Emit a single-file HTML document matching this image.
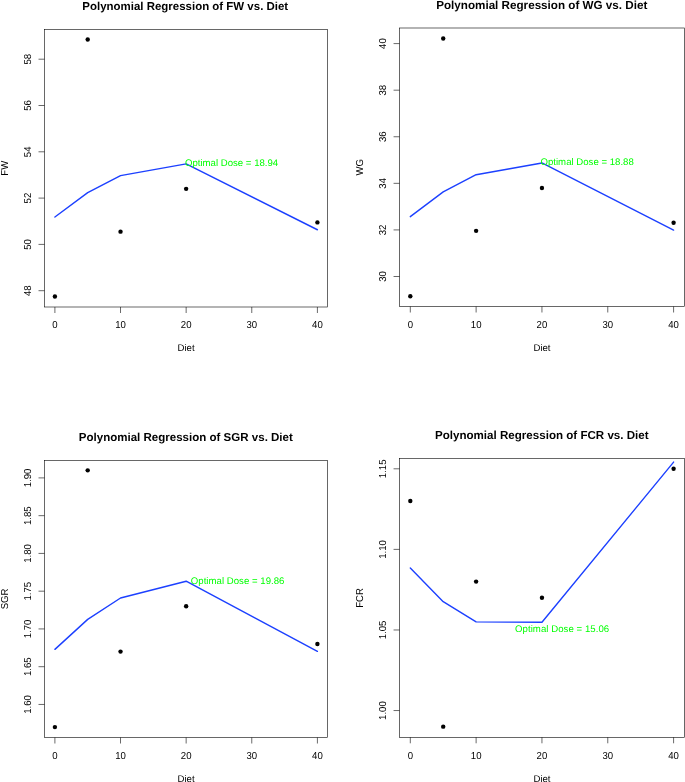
<!DOCTYPE html>
<html><head><meta charset="utf-8"><style>
html,body{margin:0;padding:0;background:#fff;}
body{width:685px;height:782px;overflow:hidden;}
svg{display:block;}
.t{opacity:0.999;}
text{font-family:"Liberation Sans", sans-serif;fill:#000;font-size:9.6px;text-rendering:geometricPrecision;}
text.g{fill:#00ff00;}
</style></head><body>
<svg width="685" height="782" viewBox="0 0 685 782">
<rect width="685" height="782" fill="#fff"/>
<g class="t">
<rect x="44.50" y="29.50" width="283.10" height="277.50" fill="none" stroke="#000" stroke-width="0.6"/>
<line x1="54.90" y1="307.00" x2="54.90" y2="313.00" stroke="#000" stroke-width="0.6"/>
<text transform="translate(54.90,328.00) scale(1,1.05)" text-anchor="middle">0</text>
<line x1="120.53" y1="307.00" x2="120.53" y2="313.00" stroke="#000" stroke-width="0.6"/>
<text transform="translate(120.53,328.00) scale(1,1.05)" text-anchor="middle">10</text>
<line x1="186.15" y1="307.00" x2="186.15" y2="313.00" stroke="#000" stroke-width="0.6"/>
<text transform="translate(186.15,328.00) scale(1,1.05)" text-anchor="middle">20</text>
<line x1="251.78" y1="307.00" x2="251.78" y2="313.00" stroke="#000" stroke-width="0.6"/>
<text transform="translate(251.78,328.00) scale(1,1.05)" text-anchor="middle">30</text>
<line x1="317.40" y1="307.00" x2="317.40" y2="313.00" stroke="#000" stroke-width="0.6"/>
<text transform="translate(317.40,328.00) scale(1,1.05)" text-anchor="middle">40</text>
<line x1="38.50" y1="290.70" x2="44.50" y2="290.70" stroke="#000" stroke-width="0.6"/>
<text transform="translate(30.90,290.70) rotate(-90) scale(1,1.05)" text-anchor="middle">48</text>
<line x1="38.50" y1="244.40" x2="44.50" y2="244.40" stroke="#000" stroke-width="0.6"/>
<text transform="translate(30.90,244.40) rotate(-90) scale(1,1.05)" text-anchor="middle">50</text>
<line x1="38.50" y1="198.10" x2="44.50" y2="198.10" stroke="#000" stroke-width="0.6"/>
<text transform="translate(30.90,198.10) rotate(-90) scale(1,1.05)" text-anchor="middle">52</text>
<line x1="38.50" y1="151.80" x2="44.50" y2="151.80" stroke="#000" stroke-width="0.6"/>
<text transform="translate(30.90,151.80) rotate(-90) scale(1,1.05)" text-anchor="middle">54</text>
<line x1="38.50" y1="105.50" x2="44.50" y2="105.50" stroke="#000" stroke-width="0.6"/>
<text transform="translate(30.90,105.50) rotate(-90) scale(1,1.05)" text-anchor="middle">56</text>
<line x1="38.50" y1="59.20" x2="44.50" y2="59.20" stroke="#000" stroke-width="0.6"/>
<text transform="translate(30.90,59.20) rotate(-90) scale(1,1.05)" text-anchor="middle">58</text>
<text transform="translate(186.05,351.00)" text-anchor="middle">Diet</text>
<text transform="translate(7.60,168.25) rotate(-90) scale(1,1.05)" text-anchor="middle">FW</text>
<text x="185.25" y="9.70" text-anchor="middle" style="font-size:11.47px;font-weight:bold;stroke:none">Polynomial Regression of FW vs. Diet</text>
<polyline points="54.90,217.05 87.71,192.61 120.53,175.61 186.15,163.91 317.40,229.75" fill="none" stroke="#1c40ff" stroke-width="1.4" stroke-linejoin="round" stroke-linecap="round"/>
<circle cx="54.90" cy="296.49" r="2.2" fill="#000"/>
<circle cx="87.71" cy="39.52" r="2.2" fill="#000"/>
<circle cx="120.53" cy="231.67" r="2.2" fill="#000"/>
<circle cx="186.15" cy="188.84" r="2.2" fill="#000"/>
<circle cx="317.40" cy="222.41" r="2.2" fill="#000"/>
<text transform="translate(184.94,166.00)" class="g" style="letter-spacing:0.01px">Optimal Dose = 18.94</text>
<rect x="399.55" y="28.00" width="284.85" height="278.50" fill="none" stroke="#000" stroke-width="0.6"/>
<line x1="410.30" y1="306.50" x2="410.30" y2="312.50" stroke="#000" stroke-width="0.6"/>
<text transform="translate(410.30,328.00) scale(1,1.05)" text-anchor="middle">0</text>
<line x1="476.12" y1="306.50" x2="476.12" y2="312.50" stroke="#000" stroke-width="0.6"/>
<text transform="translate(476.12,328.00) scale(1,1.05)" text-anchor="middle">10</text>
<line x1="541.95" y1="306.50" x2="541.95" y2="312.50" stroke="#000" stroke-width="0.6"/>
<text transform="translate(541.95,328.00) scale(1,1.05)" text-anchor="middle">20</text>
<line x1="607.77" y1="306.50" x2="607.77" y2="312.50" stroke="#000" stroke-width="0.6"/>
<text transform="translate(607.77,328.00) scale(1,1.05)" text-anchor="middle">30</text>
<line x1="673.60" y1="306.50" x2="673.60" y2="312.50" stroke="#000" stroke-width="0.6"/>
<text transform="translate(673.60,328.00) scale(1,1.05)" text-anchor="middle">40</text>
<line x1="393.55" y1="276.50" x2="399.55" y2="276.50" stroke="#000" stroke-width="0.6"/>
<text transform="translate(385.95,276.50) rotate(-90) scale(1,1.05)" text-anchor="middle">30</text>
<line x1="393.55" y1="229.92" x2="399.55" y2="229.92" stroke="#000" stroke-width="0.6"/>
<text transform="translate(385.95,229.92) rotate(-90) scale(1,1.05)" text-anchor="middle">32</text>
<line x1="393.55" y1="183.34" x2="399.55" y2="183.34" stroke="#000" stroke-width="0.6"/>
<text transform="translate(385.95,183.34) rotate(-90) scale(1,1.05)" text-anchor="middle">34</text>
<line x1="393.55" y1="136.76" x2="399.55" y2="136.76" stroke="#000" stroke-width="0.6"/>
<text transform="translate(385.95,136.76) rotate(-90) scale(1,1.05)" text-anchor="middle">36</text>
<line x1="393.55" y1="90.18" x2="399.55" y2="90.18" stroke="#000" stroke-width="0.6"/>
<text transform="translate(385.95,90.18) rotate(-90) scale(1,1.05)" text-anchor="middle">38</text>
<line x1="393.55" y1="43.60" x2="399.55" y2="43.60" stroke="#000" stroke-width="0.6"/>
<text transform="translate(385.95,43.60) rotate(-90) scale(1,1.05)" text-anchor="middle">40</text>
<text transform="translate(541.98,351.00)" text-anchor="middle">Diet</text>
<text transform="translate(362.65,167.25) rotate(-90) scale(1,1.05)" text-anchor="middle">WG</text>
<text x="541.75" y="8.50" text-anchor="middle" style="font-size:11.66px;font-weight:bold;stroke:none">Polynomial Regression of WG vs. Diet</text>
<polyline points="410.30,216.66 443.21,191.91 476.12,174.72 541.95,162.97 673.60,230.07" fill="none" stroke="#1c40ff" stroke-width="1.4" stroke-linejoin="round" stroke-linecap="round"/>
<circle cx="410.30" cy="296.30" r="2.2" fill="#000"/>
<circle cx="443.21" cy="38.48" r="2.2" fill="#000"/>
<circle cx="476.12" cy="230.85" r="2.2" fill="#000"/>
<circle cx="541.95" cy="188.00" r="2.2" fill="#000"/>
<circle cx="673.60" cy="222.70" r="2.2" fill="#000"/>
<text transform="translate(540.49,165.00)" class="g" style="letter-spacing:0.01px">Optimal Dose = 18.88</text>
<rect x="44.50" y="460.30" width="283.10" height="277.20" fill="none" stroke="#000" stroke-width="0.6"/>
<line x1="54.90" y1="737.50" x2="54.90" y2="743.50" stroke="#000" stroke-width="0.6"/>
<text transform="translate(54.90,759.00) scale(1,1.05)" text-anchor="middle">0</text>
<line x1="120.53" y1="737.50" x2="120.53" y2="743.50" stroke="#000" stroke-width="0.6"/>
<text transform="translate(120.53,759.00) scale(1,1.05)" text-anchor="middle">10</text>
<line x1="186.15" y1="737.50" x2="186.15" y2="743.50" stroke="#000" stroke-width="0.6"/>
<text transform="translate(186.15,759.00) scale(1,1.05)" text-anchor="middle">20</text>
<line x1="251.78" y1="737.50" x2="251.78" y2="743.50" stroke="#000" stroke-width="0.6"/>
<text transform="translate(251.78,759.00) scale(1,1.05)" text-anchor="middle">30</text>
<line x1="317.40" y1="737.50" x2="317.40" y2="743.50" stroke="#000" stroke-width="0.6"/>
<text transform="translate(317.40,759.00) scale(1,1.05)" text-anchor="middle">40</text>
<line x1="38.50" y1="704.45" x2="44.50" y2="704.45" stroke="#000" stroke-width="0.6"/>
<text transform="translate(30.90,704.45) rotate(-90) scale(1,1.05)" text-anchor="middle">1.60</text>
<line x1="38.50" y1="666.69" x2="44.50" y2="666.69" stroke="#000" stroke-width="0.6"/>
<text transform="translate(30.90,666.69) rotate(-90) scale(1,1.05)" text-anchor="middle">1.65</text>
<line x1="38.50" y1="628.93" x2="44.50" y2="628.93" stroke="#000" stroke-width="0.6"/>
<text transform="translate(30.90,628.93) rotate(-90) scale(1,1.05)" text-anchor="middle">1.70</text>
<line x1="38.50" y1="591.18" x2="44.50" y2="591.18" stroke="#000" stroke-width="0.6"/>
<text transform="translate(30.90,591.18) rotate(-90) scale(1,1.05)" text-anchor="middle">1.75</text>
<line x1="38.50" y1="553.42" x2="44.50" y2="553.42" stroke="#000" stroke-width="0.6"/>
<text transform="translate(30.90,553.42) rotate(-90) scale(1,1.05)" text-anchor="middle">1.80</text>
<line x1="38.50" y1="515.66" x2="44.50" y2="515.66" stroke="#000" stroke-width="0.6"/>
<text transform="translate(30.90,515.66) rotate(-90) scale(1,1.05)" text-anchor="middle">1.85</text>
<line x1="38.50" y1="477.90" x2="44.50" y2="477.90" stroke="#000" stroke-width="0.6"/>
<text transform="translate(30.90,477.90) rotate(-90) scale(1,1.05)" text-anchor="middle">1.90</text>
<text transform="translate(186.05,782.00)" text-anchor="middle">Diet</text>
<text transform="translate(7.60,598.90) rotate(-90) scale(1,1.05)" text-anchor="middle">SGR</text>
<text x="185.82" y="440.60" text-anchor="middle" style="font-size:11.545px;font-weight:bold;stroke:none">Polynomial Regression of SGR vs. Diet</text>
<polyline points="54.90,649.38 87.71,619.39 120.53,598.03 186.15,581.24 317.40,651.31" fill="none" stroke="#1c40ff" stroke-width="1.4" stroke-linejoin="round" stroke-linecap="round"/>
<circle cx="54.90" cy="727.11" r="2.2" fill="#000"/>
<circle cx="87.71" cy="470.35" r="2.2" fill="#000"/>
<circle cx="120.53" cy="651.59" r="2.2" fill="#000"/>
<circle cx="186.15" cy="606.28" r="2.2" fill="#000"/>
<circle cx="317.40" cy="644.04" r="2.2" fill="#000"/>
<text transform="translate(190.78,584.00)" class="g" style="letter-spacing:0.03px">Optimal Dose = 19.86</text>
<rect x="399.55" y="458.50" width="284.85" height="278.80" fill="none" stroke="#000" stroke-width="0.6"/>
<line x1="410.30" y1="737.30" x2="410.30" y2="743.30" stroke="#000" stroke-width="0.6"/>
<text transform="translate(410.30,759.00) scale(1,1.05)" text-anchor="middle">0</text>
<line x1="476.12" y1="737.30" x2="476.12" y2="743.30" stroke="#000" stroke-width="0.6"/>
<text transform="translate(476.12,759.00) scale(1,1.05)" text-anchor="middle">10</text>
<line x1="541.95" y1="737.30" x2="541.95" y2="743.30" stroke="#000" stroke-width="0.6"/>
<text transform="translate(541.95,759.00) scale(1,1.05)" text-anchor="middle">20</text>
<line x1="607.77" y1="737.30" x2="607.77" y2="743.30" stroke="#000" stroke-width="0.6"/>
<text transform="translate(607.77,759.00) scale(1,1.05)" text-anchor="middle">30</text>
<line x1="673.60" y1="737.30" x2="673.60" y2="743.30" stroke="#000" stroke-width="0.6"/>
<text transform="translate(673.60,759.00) scale(1,1.05)" text-anchor="middle">40</text>
<line x1="393.55" y1="710.55" x2="399.55" y2="710.55" stroke="#000" stroke-width="0.6"/>
<text transform="translate(385.95,710.55) rotate(-90) scale(1,1.05)" text-anchor="middle">1.00</text>
<line x1="393.55" y1="629.97" x2="399.55" y2="629.97" stroke="#000" stroke-width="0.6"/>
<text transform="translate(385.95,629.97) rotate(-90) scale(1,1.05)" text-anchor="middle">1.05</text>
<line x1="393.55" y1="549.38" x2="399.55" y2="549.38" stroke="#000" stroke-width="0.6"/>
<text transform="translate(385.95,549.38) rotate(-90) scale(1,1.05)" text-anchor="middle">1.10</text>
<line x1="393.55" y1="468.80" x2="399.55" y2="468.80" stroke="#000" stroke-width="0.6"/>
<text transform="translate(385.95,468.80) rotate(-90) scale(1,1.05)" text-anchor="middle">1.15</text>
<text transform="translate(541.98,782.00)" text-anchor="middle">Diet</text>
<text transform="translate(362.65,597.90) rotate(-90) scale(1,1.05)" text-anchor="middle">FCR</text>
<text x="541.80" y="438.70" text-anchor="middle" style="font-size:11.59px;font-weight:bold;stroke:none">Polynomial Regression of FCR vs. Diet</text>
<polyline points="410.30,567.98 443.21,601.64 476.12,621.90 541.95,622.22 673.60,462.11" fill="none" stroke="#1c40ff" stroke-width="1.4" stroke-linejoin="round" stroke-linecap="round"/>
<circle cx="410.30" cy="501.03" r="2.2" fill="#000"/>
<circle cx="443.21" cy="726.67" r="2.2" fill="#000"/>
<circle cx="476.12" cy="581.62" r="2.2" fill="#000"/>
<circle cx="541.95" cy="597.73" r="2.2" fill="#000"/>
<circle cx="673.60" cy="468.80" r="2.2" fill="#000"/>
<text transform="translate(514.99,632.00)" class="g" style="letter-spacing:0.06px">Optimal Dose = 15.06</text>
</g>
</svg>
</body></html>
